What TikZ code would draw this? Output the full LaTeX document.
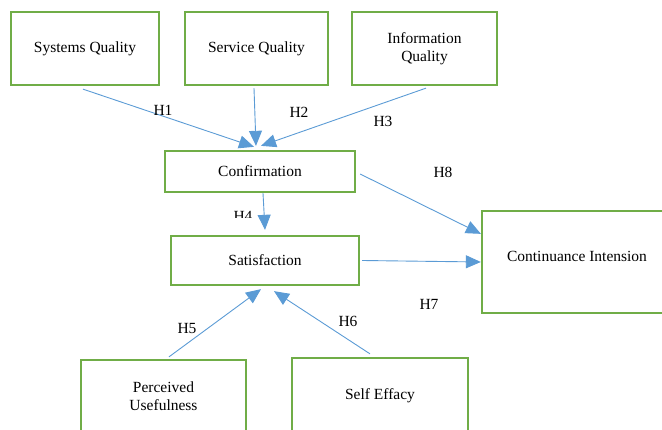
\documentclass[tikz,border=0pt]{standalone}
\usepackage{fontspec}
\setmainfont{Liberation Serif}
\usetikzlibrary{arrows.meta}

\definecolor{boxgreen}{HTML}{70AD47}
\definecolor{linkblue}{HTML}{5B9BD5}

\begin{document}
\begin{tikzpicture}[x=1pt,y=-1pt,
                    construct/.style={draw=boxgreen,line width=2.3pt,fill=white,inner sep=0pt,
                                      align=center,font=\fontsize{15.5}{18}\selectfont},
                    hypo/.style={font=\fontsize{15.5}{18}\selectfont,inner sep=0pt},
                    path link/.style={draw=linkblue,line width=0.9pt,
                                      -{Triangle[length=15pt,width=13pt]}}]
      \useasboundingbox (0,0) rectangle (662,430);
      \clip (0,0) rectangle (662,430);

      \node[construct,minimum width=148,minimum height=73] (sysq) at (85,48.5) {Systems Quality};
      \node[construct,minimum width=143,minimum height=73] (servq) at (256.5,48.5) {Service Quality};
      \node[construct,minimum width=145,minimum height=73] (infoq) at (424.5,48.5) {Information\\Quality};

      \node[construct,minimum width=190,minimum height=41] (conf) at (260,171.5) {Confirmation};
      \node[construct,minimum width=188,minimum height=49] (satis) at (265,260.5) {Satisfaction};
      \node[construct,minimum width=190,minimum height=102] (cont) at (577,262)
           {\raisebox{12pt}{Continuance Intension}};

      \node[construct,minimum width=165,minimum height=72] (peru) at (163.5,396) {Perceived\\Usefulness};
      \node[construct,minimum width=176,minimum height=76] (selfe) at (380,396) {Self Effacy};

      % hypotheses
      \draw[path link] ([xshift=-2pt,yshift=-3pt]sysq.south) -- ([xshift=-6pt,yshift=3pt]conf.north);
      \draw[path link] ([xshift=-2.5pt,yshift=-2pt]servq.south) -- ([xshift=-4pt,yshift=4pt]conf.north);
      \draw[path link] ([xshift=1.5pt,yshift=-2pt]infoq.south) -- ([xshift=1pt,yshift=4pt]conf.north);
      \draw[path link] ([xshift=3pt]conf.south) -- ([xshift=0pt,yshift=5pt]satis.north);
      \draw[path link] ([xshift=4pt,yshift=-2.5pt]conf.east) -- ([yshift=-24pt]cont.north west);
      \draw[path link] ([xshift=2pt]satis.east) -- (cont.west);
      \draw[path link] ([xshift=5.5pt,yshift=2pt]peru.north) -- ([xshift=-4pt,yshift=-3pt]satis.south);
      \draw[path link] ([xshift=-10pt,yshift=3pt]selfe.north) -- ([xshift=9pt,yshift=-5pt]satis.south);

      \node[hypo] (h1) at (163,110) {H1};
      \node[hypo] (h2) at (299,112) {H2};
      \node[hypo] (h3) at (383,121) {H3};
      \begin{scope}
        \clip (220,200) rectangle (270,218);
        \node[hypo] (h4) at (243,216.5) {H4};
      \end{scope}
      \node[hypo] (h5) at (187,329) {H5};
      \node[hypo] (h6) at (348,321) {H6};
      \node[hypo] (h7) at (429,304) {H7};
      \node[hypo] (h8) at (443,172) {H8};
    \end{tikzpicture}
\end{document}
